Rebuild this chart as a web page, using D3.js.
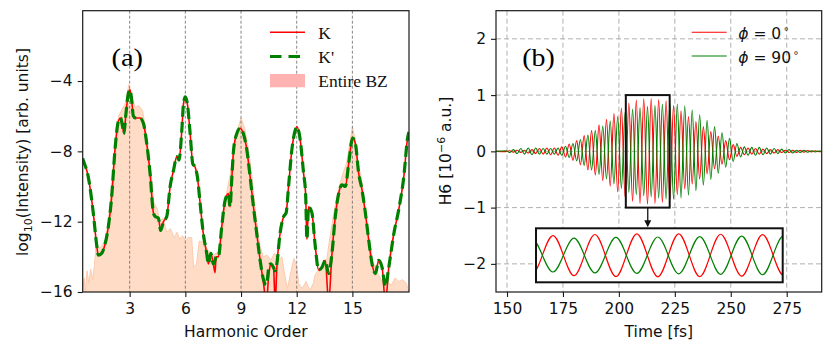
<!DOCTYPE html>
<html><head><meta charset="utf-8">
<script src="https://cdn.jsdelivr.net/npm/d3@7"></script>
<style>html,body{margin:0;padding:0;background:#fff}</style>
</head><body>
<script>
// ---------- Panel (a) data ----------
const kOrder = [0.47,0.5,0.77,1.04,1.22,1.31,1.49,1.67,1.85,2.03,2.21,2.39,2.51,2.62,2.69,2.8,2.93,3.02,3.11,3.2,3.29,3.56,3.74,3.92,4.1,4.28,4.37,4.55,4.67,4.82,5.0,5.18,5.36,5.54,5.66,5.81,5.9,6.0,6.11,6.26,6.4,6.53,6.65,6.8,6.97,7.15,7.24,7.37,7.51,7.6,7.66,7.78,7.96,8.14,8.32,8.41,8.5,8.6,8.77,8.95,9.13,9.31,9.49,9.67,9.85,10.03,10.21,10.36,10.5,10.6,10.75,10.84,10.93,11.1,11.3,11.43,11.56,11.74,11.92,12.01,12.19,12.37,12.48,12.55,12.64,12.82,13.0,13.18,13.36,13.54,13.72,13.9,14.08,14.26,14.44,14.62,14.8,15.01,15.16,15.34,15.52,15.7,15.88,16.06,16.24,16.42,16.6,16.78,16.96,17.23,17.5,17.77,17.98,18.05];
const kVals = [-8.4,-8.5,-9.45,-11.5,-13.3,-13.9,-13.8,-13.3,-12.3,-10.6,-7.9,-6.3,-6.1,-6.6,-7.0,-5.85,-4.7,-4.5,-5.1,-6.0,-6.1,-6.1,-6.4,-7.55,-9.25,-11.5,-11.7,-11.8,-12.5,-12.0,-11.7,-10.0,-9.1,-8.3,-8.5,-6.8,-5.3,-4.9,-5.3,-7.0,-8.7,-8.9,-9.45,-11.0,-12.7,-13.8,-14.4,-13.8,-14.4,-14.9,-14.0,-14.0,-12.3,-10.8,-10.4,-11.15,-9.6,-7.9,-7.0,-6.7,-7.0,-7.9,-9.45,-11.15,-12.7,-14.2,-15.5,-16.6,-15.0,-14.4,-14.6,-16.6,-14.6,-12.7,-11.7,-11.5,-10.0,-7.9,-6.8,-6.6,-7.35,-9.25,-10.4,-13.0,-11.15,-11.5,-13.4,-14.75,-14.6,-14.2,-16.6,-13.8,-11.7,-10.4,-9.9,-10.0,-8.7,-7.25,-7.55,-9.25,-10.2,-11.5,-13.05,-14.4,-14.95,-14.2,-14.6,-16.6,-14.6,-12.7,-11.3,-9.45,-7.2,-6.9];
const kpVals = [-8.4,-8.5,-9.45,-11.5,-13.3,-13.9,-13.8,-13.3,-12.3,-10.6,-7.9,-6.3,-6.1,-6.6,-7.0,-5.85,-4.7,-4.5,-5.1,-6.0,-6.1,-6.1,-6.4,-7.55,-9.25,-11.5,-11.7,-11.8,-12.5,-12.0,-11.7,-10.0,-9.1,-8.3,-8.5,-6.8,-5.3,-4.9,-5.3,-7.0,-8.7,-8.9,-9.45,-11.0,-12.7,-13.8,-14.4,-13.8,-14.4,-14.2,-14.0,-14.0,-12.3,-10.8,-10.4,-11.15,-9.6,-7.9,-7.0,-6.7,-7.0,-7.9,-9.45,-11.15,-12.7,-14.2,-15.3,-15.6,-14.6,-14.4,-14.6,-14.8,-14.4,-12.7,-11.7,-11.5,-10.0,-7.9,-6.8,-6.6,-7.35,-9.25,-10.4,-13.0,-11.15,-11.5,-13.4,-14.75,-14.6,-14.2,-14.95,-13.8,-11.7,-10.4,-9.9,-10.0,-8.7,-7.25,-7.55,-9.25,-10.2,-11.5,-13.05,-14.4,-14.95,-14.2,-14.6,-15.7,-14.6,-12.7,-11.3,-9.45,-7.2,-6.9];
const bzOrder = [0.47,0.55,0.62,0.7,0.8,0.9,1.0,1.1,1.2,1.35,1.5,1.7,1.85,2.0,2.2,2.4,2.6,2.8,2.95,3.1,3.3,3.5,3.7,3.9,4.1,4.3,4.5,4.6,4.8,5.0,5.2,5.4,5.55,5.7,5.85,6.0,6.15,6.34,6.45,6.6,6.75,7.0,7.2,7.5,7.8,8.0,8.2,8.4,8.6,8.8,9.0,9.2,9.4,9.6,9.8,10.0,10.2,10.4,10.6,10.8,11.0,11.2,11.35,11.5,11.7,11.85,12.0,12.1,12.3,12.5,12.7,12.9,13.0,13.2,13.4,13.6,13.8,14.0,14.2,14.45,14.7,14.85,15.0,15.15,15.3,15.5,15.7,15.9,16.1,16.3,16.5,16.7,16.9,17.1,17.3,17.5,17.7,17.9,18.05];
const bzVals = [-16,-15.2,-16,-14.8,-15.5,-14.7,-15.3,-14.5,-13.2,-13.5,-13.4,-13.0,-12.0,-10.3,-7.7,-6.0,-5.6,-5.2,-4.2,-4.8,-5.5,-5.4,-5.7,-7.0,-8.8,-10.9,-11.3,-12.0,-11.8,-12.6,-12.4,-12.9,-12.6,-13.0,-12.8,-13.1,-12.9,-12.9,-14.6,-14.4,-13.1,-13.2,-13.6,-13.9,-13.7,-12.3,-10.5,-9.4,-8.0,-6.8,-6.1,-6.7,-7.9,-9.6,-11.6,-13.3,-14.0,-13.9,-14.2,-13.8,-14.2,-14.0,-15.0,-15.8,-14.8,-14.1,-14.5,-15.5,-15.8,-15.4,-15.9,-15.5,-15.0,-14.7,-14.8,-14.3,-12.8,-11.5,-10.4,-9.4,-8.6,-7.6,-6.6,-7.3,-8.6,-9.6,-11.5,-13.0,-14.3,-14.8,-15.2,-15.6,-15.5,-15.6,-15.2,-15.4,-15.3,-15.5,-16];
const aXTicks = [3,6,9,12,15];
const aYTicks = [-4,-8,-12,-16];

// ---------- Panel (b) data ----------
const extremaTimes = [145.1,149.51,151.17,152.84,154.50,156.17,157.83,159.50,161.16,162.83,164.49,166.16,167.82,169.49,171.15,172.82,174.48,176.15,177.81,179.48,181.14,182.81,184.47,186.14,187.80,189.47,191.13,192.80,194.46,196.13,197.79,199.46,201.12,202.79,204.45,206.12,207.78,209.45,211.11,212.78,214.44,216.11,217.77,219.44,221.10,222.77,224.43,226.10,227.76,229.43,231.09,232.76,234.42,236.09,237.75,239.42,241.08,242.75,244.41,246.08,247.74,249.41,251.07,252.74,254.40,256.07,257.73,259.40,261.06,262.73,264.39,266.06,267.72,269.39,271.05,272.72,274.38,276.05,277.71,279.38,281.04,282.71,284.37,286.04,287.70,289.37,290.64];
const phi0Vals = [0,-0.005,0.01,-0.015,0.02,-0.02,0.02,-0.03,0.03,-0.04,0.05,-0.05,0.06,-0.06,0.06,-0.07,0.08,-0.10,0.13,-0.16,0.19,-0.24,0.28,-0.33,0.37,-0.42,0.47,-0.52,0.57,-0.62,0.67,-0.72,0.77,-0.82,0.86,-0.89,0.91,-0.93,0.94,-0.94,0.94,-0.93,0.92,-0.91,0.90,-0.87,0.82,-0.77,0.72,-0.67,0.62,-0.58,0.53,-0.49,0.44,-0.40,0.35,-0.31,0.27,-0.23,0.19,-0.15,0.12,-0.09,0.07,-0.06,0.06,-0.05,0.05,-0.05,0.04,-0.04,0.03,-0.03,0.03,-0.02,0.02,-0.02,0.02,-0.02,0.02,-0.015,0.015,-0.01,0.01,-0.005,0];
const phi90Vals = [0,0.01,-0.02,0.03,-0.04,0.05,-0.05,0.06,-0.06,0.06,-0.05,0.05,-0.05,0.05,-0.05,0.06,-0.07,0.09,-0.11,0.14,-0.17,0.21,-0.25,0.29,-0.33,0.37,-0.41,0.45,-0.49,0.54,-0.58,0.62,-0.66,0.70,-0.73,0.75,-0.77,0.78,-0.79,0.80,-0.81,0.82,-0.83,0.84,-0.85,0.85,-0.85,0.84,-0.83,0.81,-0.78,0.74,-0.70,0.65,-0.60,0.55,-0.50,0.44,-0.39,0.33,-0.28,0.23,-0.18,0.14,-0.10,0.08,-0.07,0.07,-0.07,0.07,-0.06,0.06,-0.05,0.05,-0.04,0.04,-0.03,0.03,-0.03,0.02,-0.02,0.02,-0.015,0.01,-0.01,0.005,0];
const bXTicks = [150,175,200,225,250,275];
const bYTicks = [2,1,0,-1,-2];
const zoomWindow = [203.1,222.7];

// ---------- drawing ----------
const W = 830, H = 356;
const FONT = "DejaVu Sans";
const SERIF = "Liberation Serif";
const svg = d3.select("body").append("svg").attr("width", W).attr("height", H)
  .style("font-family", FONT);
const defs = svg.append("defs");
const fmtInt = d3.format("d");

function frame(g, x0, x1, y0, y1) {
  g.append("rect").attr("x", x0).attr("y", y0).attr("width", x1 - x0).attr("height", y1 - y0)
    .attr("fill", "none").attr("stroke", "#1a1a1a").attr("stroke-width", 1.2);
}
function styleAxis(sel) {
  sel.select(".domain").remove();
  sel.selectAll(".tick line").attr("stroke", "#1a1a1a").attr("stroke-width", 1.1);
  sel.selectAll(".tick text").attr("font-family", FONT).attr("font-size", 15.5).attr("fill", "#111");
}

// ===== Panel A =====
const A = {l: 82.7, r: 409, t: 10.7, b: 292};
const xA = d3.scaleLinear().domain([0.47, 18.05]).range([A.l, A.r]);
const yA = d3.scaleLinear().domain([-16, 0]).range([A.b, A.t]);
defs.append("clipPath").attr("id", "clipA").append("rect")
  .attr("x", A.l).attr("y", A.t).attr("width", A.r - A.l).attr("height", A.b - A.t);
const gA = svg.append("g");
const plotA = gA.append("g").attr("clip-path", "url(#clipA)");

const bz = bzOrder.map((o, i) => [o, bzVals[i]]);
plotA.append("path").datum(bz)
  .attr("d", d3.area().x(d => xA(d[0])).y0(yA(-16)).y1(d => yA(d[1])))
  .attr("fill", "#ffdcc6");
plotA.append("path").datum(bz)
  .attr("d", d3.line().x(d => xA(d[0])).y(d => yA(d[1])))
  .attr("fill", "none").attr("stroke", "#fccbae").attr("stroke-width", 1);

aXTicks.forEach(v => {
  plotA.append("line").attr("x1", xA(v)).attr("x2", xA(v)).attr("y1", A.t).attr("y2", A.b)
    .attr("stroke", "#666").attr("stroke-width", 0.8).attr("stroke-dasharray", "3,2");
});

const lineA = d3.line().x(d => xA(d[0])).y(d => yA(d[1])).curve(d3.curveMonotoneX);
plotA.append("path").datum(kOrder.map((o, i) => [o, kVals[i]]))
  .attr("d", lineA).attr("fill", "none").attr("stroke", "#ff0000").attr("stroke-width", 1.6);
plotA.append("path").datum(kOrder.map((o, i) => [o, kpVals[i]]))
  .attr("d", lineA).attr("fill", "none").attr("stroke", "#008000").attr("stroke-width", 3.2)
  .attr("stroke-dasharray", "11,5");

frame(gA, A.l, A.r, A.t, A.b);
gA.append("g").attr("transform", `translate(0,${A.b})`)
  .call(d3.axisBottom(xA).tickValues(aXTicks).tickFormat(fmtInt).tickSize(5).tickPadding(6)).call(styleAxis);
gA.append("g").attr("transform", `translate(${A.l},0)`)
  .call(d3.axisLeft(yA).tickValues(aYTicks).tickFormat(fmtInt).tickSize(5).tickPadding(5)).call(styleAxis);

gA.append("text").attr("x", (A.l + A.r) / 2).attr("y", 337).attr("text-anchor", "middle")
  .attr("font-size", 15.5).attr("fill", "#111").text("Harmonic Order");
const ylA = gA.append("text").attr("transform", "translate(27.5,152) rotate(-90)")
  .attr("text-anchor", "middle").attr("font-size", 15.5).attr("fill", "#111");
ylA.append("tspan").text("log");
ylA.append("tspan").attr("font-size", 11).attr("dy", 4).text("10");
ylA.append("tspan").attr("dy", -4).text("(Intensity) [arb. units]");

gA.append("text").attr("x", 111.5).attr("y", 65.5).attr("font-family", SERIF)
  .attr("font-size", 26).attr("textLength", 31.5).attr("lengthAdjust", "spacingAndGlyphs").text("(a)");

// legend A
const legA = gA.append("g");
legA.append("line").attr("x1", 270).attr("x2", 305).attr("y1", 32.3).attr("y2", 32.3)
  .attr("stroke", "#ff0000").attr("stroke-width", 1.6);
legA.append("line").attr("x1", 270).attr("x2", 305).attr("y1", 56.5).attr("y2", 56.5)
  .attr("stroke", "#008000").attr("stroke-width", 3.2).attr("stroke-dasharray", "11.5,7");
legA.append("rect").attr("x", 270).attr("y", 74).attr("width", 35).attr("height", 13.3)
  .attr("fill", "#ffb2b2");
[["K", 38.5], ["K'", 62.5], ["Entire BZ", 87]].forEach(([t, y]) => {
  legA.append("text").attr("x", 318.3).attr("y", y).attr("font-family", SERIF)
    .attr("font-size", 17.5).attr("fill", "#111").text(t);
});

// ===== Panel B =====
const B = {l: 496, r: 821.7, t: 10.7, b: 292};
const xB = d3.scaleLinear().domain([145.08, 290.64]).range([B.l, B.r]);
const yB = d3.scaleLinear().domain([-2.5, 2.5]).range([B.b, B.t]);
defs.append("clipPath").attr("id", "clipB").append("rect")
  .attr("x", B.l).attr("y", B.t).attr("width", B.r - B.l).attr("height", B.b - B.t);
const gB = svg.append("g");
const plotB = gB.append("g").attr("clip-path", "url(#clipB)");

bXTicks.forEach(v => plotB.append("line").attr("x1", xB(v)).attr("x2", xB(v)).attr("y1", B.t).attr("y2", B.b)
  .attr("stroke", "#b0b0b0").attr("stroke-width", 1).attr("stroke-dasharray", "5,3"));
bYTicks.forEach(v => plotB.append("line").attr("x1", B.l).attr("x2", B.r).attr("y1", yB(v)).attr("y2", yB(v))
  .attr("stroke", "#b0b0b0").attr("stroke-width", 1).attr("stroke-dasharray", "5,3"));

const lineB = d3.line().x(d => xB(d[0])).y(d => yB(d[1])).curve(d3.curveMonotoneX);
const red = extremaTimes.map((t, i) => [t, phi0Vals[i]]);
const grn = extremaTimes.map((t, i) => [t, phi90Vals[i]]);
plotB.append("path").datum(red).attr("d", lineB).attr("fill", "none")
  .attr("stroke", "#ff0000").attr("stroke-width", 1.1);
plotB.append("path").datum(grn).attr("d", lineB).attr("fill", "none")
  .attr("stroke", "#008000").attr("stroke-width", 1.1);

// zoom rectangle
plotB.append("rect").attr("x", xB(zoomWindow[0])).attr("y", yB(1))
  .attr("width", xB(zoomWindow[1]) - xB(zoomWindow[0])).attr("height", yB(-1) - yB(1))
  .attr("fill", "none").attr("stroke", "#111").attr("stroke-width", 2);

// inset
const I = {l: 536, r: 782.7, t: 228.3, b: 282.3};
const xI = d3.scaleLinear().domain(zoomWindow).range([I.l, I.r]);
const yI = d3.scaleLinear().domain([-1.18, 1.18]).range([I.b, I.t]);
defs.append("clipPath").attr("id", "clipI").append("rect")
  .attr("x", I.l).attr("y", I.t).attr("width", I.r - I.l).attr("height", I.b - I.t);
gB.append("rect").attr("x", I.l).attr("y", I.t).attr("width", I.r - I.l).attr("height", I.b - I.t)
  .attr("fill", "#fff");
const plotI = gB.append("g").attr("clip-path", "url(#clipI)");
const lineI = d3.line().x(d => xI(d[0])).y(d => yI(d[1])).curve(d3.curveMonotoneX);
plotI.append("path").datum(red).attr("d", lineI).attr("fill", "none")
  .attr("stroke", "#ff0000").attr("stroke-width", 1.2);
plotI.append("path").datum(grn).attr("d", lineI).attr("fill", "none")
  .attr("stroke", "#008000").attr("stroke-width", 1.2);
gB.append("rect").attr("x", I.l).attr("y", I.t).attr("width", I.r - I.l).attr("height", I.b - I.t)
  .attr("fill", "none").attr("stroke", "#111").attr("stroke-width", 2);

// arrow
const ax = xB((zoomWindow[0] + zoomWindow[1]) / 2);
gB.append("line").attr("x1", ax).attr("x2", ax).attr("y1", yB(-1)).attr("y2", I.t - 6)
  .attr("stroke", "#111").attr("stroke-width", 1.3);
gB.append("path").attr("d", `M${ax - 3.5},${I.t - 8} L${ax + 3.5},${I.t - 8} L${ax},${I.t - 1} Z`)
  .attr("fill", "#111");

frame(gB, B.l, B.r, B.t, B.b);
gB.append("g").attr("transform", `translate(0,${B.b})`)
  .call(d3.axisBottom(xB).tickValues(bXTicks).tickFormat(fmtInt).tickSize(5).tickPadding(6)).call(styleAxis);
gB.append("g").attr("transform", `translate(${B.l},0)`)
  .call(d3.axisLeft(yB).tickValues(bYTicks).tickFormat(fmtInt).tickSize(5).tickPadding(5)).call(styleAxis);

gB.append("text").attr("x", (B.l + B.r) / 2).attr("y", 337).attr("text-anchor", "middle")
  .attr("font-size", 15.5).attr("fill", "#111").text("Time [fs]");
const ylB = gB.append("text").attr("transform", "translate(451,151) rotate(-90)")
  .attr("text-anchor", "middle").attr("font-size", 15.5).attr("fill", "#111");
ylB.append("tspan").text("H6 [10");
ylB.append("tspan").attr("font-size", 11).attr("dy", -6).text("−6");
ylB.append("tspan").attr("dy", 6).text(" a.u.]");

gB.append("text").attr("x", 522.3).attr("y", 65.5).attr("font-family", SERIF)
  .attr("font-size", 26).attr("textLength", 32.5).attr("lengthAdjust", "spacingAndGlyphs").text("(b)");

// legend B
const legB = gB.append("g");
[["0", 32.3, 38.5, "#ff0000"], ["90", 56, 62.5, "#008000"]].forEach(([v, ly, ty, c]) => {
  legB.append("line").attr("x1", 691.7).attr("x2", 726.7).attr("y1", ly).attr("y2", ly)
    .attr("stroke", c).attr("stroke-width", 1.1);
  const t = legB.append("text").attr("x", 738.3).attr("y", ty).attr("font-size", 15.5).attr("fill", "#111");
  t.append("tspan").attr("font-style", "italic").text("ϕ");
  t.append("tspan").text(" = " + v);
  t.append("tspan").attr("font-size", 10).attr("dx", 2).attr("dy", -7).text("∘");
});
</script>
</body></html>
